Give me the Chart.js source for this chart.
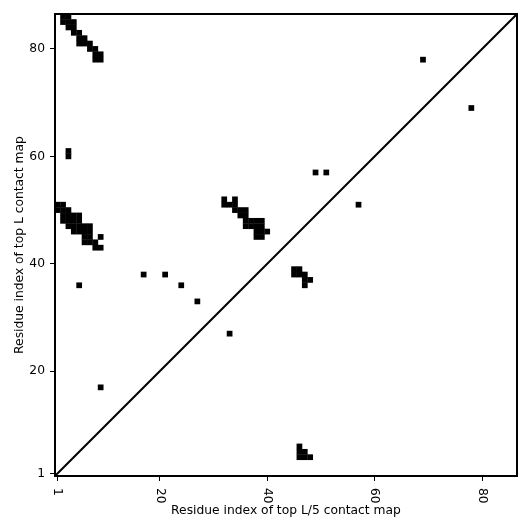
<!DOCTYPE html>
<html>
<head>
<meta charset="utf-8">
<script src="https://cdn.jsdelivr.net/npm/chart.js@4/dist/chart.umd.min.js"></script>
<style>
  html, body { margin: 0; padding: 0; background: #fff; }
</style>
</head>
<body>
<canvas id="contactChart" width="531" height="531"></canvas>
<script>
const residueCount = 86;
const tickValues = [1, 20, 40, 60, 80];

// contacts as (residue i, residue j) pairs, 1-based
const contactI = [
  2, 3, 2, 3, 4, 3, 4, 4, 5, 5, 6, 5, 6, 7, 7, 8, 8, 9, 8, 9,
  1, 2, 1, 2, 3, 2, 3, 4, 5, 2, 3, 4, 5, 3, 4, 5, 6, 7, 4, 5, 6, 7, 6, 7, 9, 6, 7, 8, 8, 9,
  32, 34, 32, 33, 34, 34, 35, 36, 35, 36, 36, 37, 38, 39, 36, 37, 38, 39, 38, 39, 40, 38, 39,
  45, 46, 45, 46, 47, 47, 48, 47,
  46, 46, 47, 46, 47, 48,
  3, 3, 5, 17, 21, 24, 9, 27, 33, 49, 51, 57, 69, 78
];
const contactJ = [
  86, 86, 85, 85, 85, 84, 84, 83, 83, 82, 82, 81, 81, 81, 80, 80, 79, 79, 78, 78,
  51, 51, 50, 50, 50, 49, 49, 49, 49, 48, 48, 48, 48, 47, 47, 47, 47, 47, 46, 46, 46, 46, 45, 45, 45, 44, 44, 44, 43, 43,
  52, 52, 51, 51, 51, 50, 50, 50, 49, 49, 48, 48, 48, 48, 47, 47, 47, 47, 46, 46, 46, 45, 45,
  39, 39, 38, 38, 38, 37, 37, 36,
  6, 5, 5, 4, 4, 4,
  61, 60, 36, 38, 38, 36, 17, 33, 27, 57, 57, 51, 78, 69
];

const diagonal = [
  { x: 0.5, y: 0.5 },
  { x: residueCount + 0.5, y: residueCount + 0.5 }
];

const labelFont = { family: 'DejaVu Sans', size: 12.3 };

const cellSize = (c) => {
  const s = c.chart.scales.x;
  return Math.abs(s.getPixelForValue(1) - s.getPixelForValue(0)) / Math.SQRT2 + 0.25;
};

// frame round the plot and rotated x tick labels
const framePlugin = {
  id: 'frame',
  afterDraw(chart) {
    const { ctx, chartArea: a, scales } = chart;
    ctx.save();
    ctx.strokeStyle = '#000';
    ctx.lineWidth = 2;
    ctx.strokeRect(a.left, a.top, a.right - a.left, a.bottom - a.top);
    ctx.fillStyle = '#000';
    ctx.font = labelFont.size + 'px "DejaVu Sans"';
    ctx.textAlign = 'left';
    ctx.textBaseline = 'middle';
    tickValues.forEach(v => {
      const px = scales.x.getPixelForValue(v);
      ctx.save();
      ctx.translate(px, a.bottom + 12);
      ctx.rotate(Math.PI / 2);
      ctx.fillText(String(v), 0, 0);
      ctx.restore();
    });
    ctx.restore();
  }
};

const chart = new Chart(document.getElementById('contactChart').getContext('2d'), {
  type: 'scatter',
  data: {
    datasets: [
      {
        data: contactI.map((x, k) => ({ x: x, y: contactJ[k] })),
        pointStyle: 'rect',
        pointRadius: cellSize,
        backgroundColor: '#000',
        borderWidth: 0
      },
      {
        type: 'line',
        data: diagonal,
        borderColor: '#000',
        borderWidth: 2,
        pointRadius: 0,
        fill: false
      }
    ]
  },
  options: {
    responsive: false,
    devicePixelRatio: 1,
    animation: false,
    events: [],
    layout: { autoPadding: false, padding: { left: 0, right: 14, top: 14, bottom: 0 } },
    plugins: { legend: { display: false }, tooltip: { enabled: false } },
    scales: {
      x: {
        type: 'linear',
        position: 'bottom',
        min: 0.5,
        max: residueCount + 0.5,
        afterBuildTicks: s => { s.ticks = tickValues.map(v => ({ value: v })); },
        afterFit: s => { s.height = 55; },
        grid: { display: true, drawOnChartArea: false, drawTicks: true, tickLength: 5, color: '#000', lineWidth: 1 },
        border: { display: false },
        ticks: { display: false },
        title: {
          display: true,
          text: 'Residue index of top L/5 contact map',
          font: labelFont,
          color: '#000',
          padding: { top: 0, bottom: 13 }
        }
      },
      y: {
        type: 'linear',
        min: 0.5,
        max: residueCount + 0.5,
        afterBuildTicks: s => { s.ticks = tickValues.map(v => ({ value: v })); },
        afterFit: s => { s.width = 55; },
        grid: { display: true, drawOnChartArea: false, drawTicks: true, tickLength: 5, color: '#000', lineWidth: 1 },
        border: { display: false },
        ticks: { display: true, font: labelFont, color: '#000', padding: 5 },
        title: {
          display: true,
          text: 'Residue index of top L contact map',
          font: labelFont,
          color: '#000',
          padding: { top: 12, bottom: 0 }
        }
      }
    }
  },
  plugins: [framePlugin]
});
</script>
</body>
</html>
